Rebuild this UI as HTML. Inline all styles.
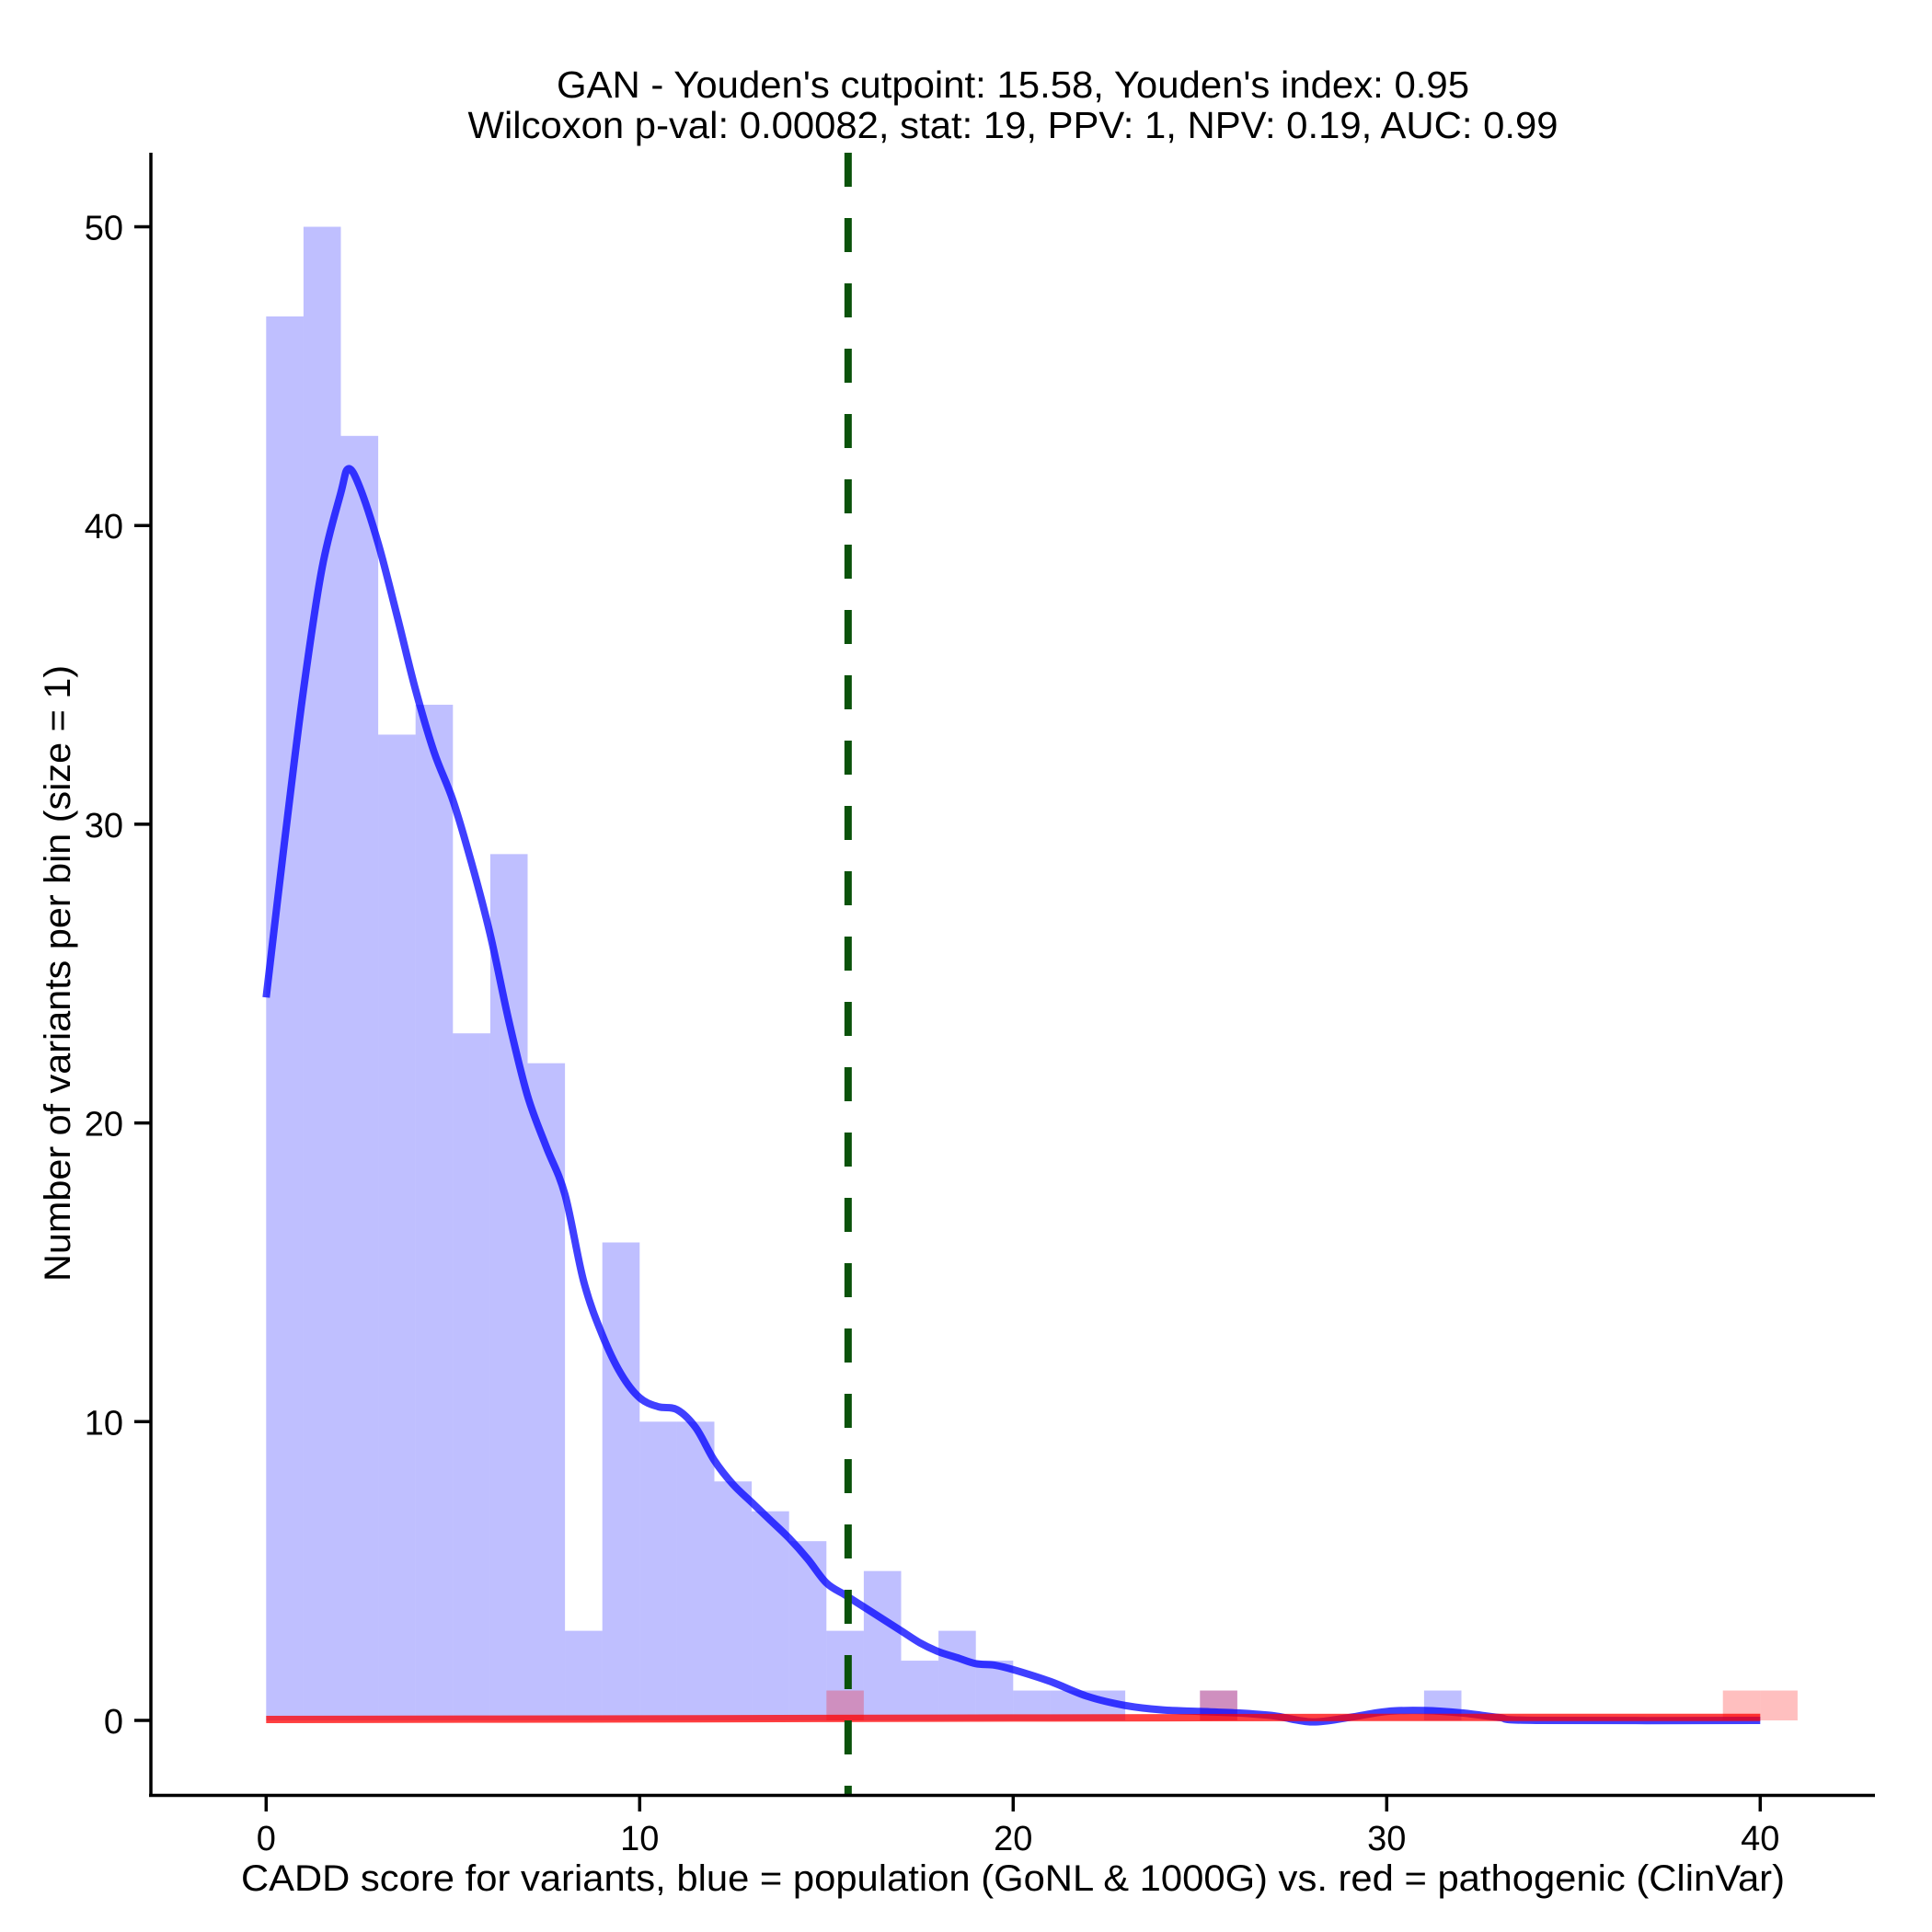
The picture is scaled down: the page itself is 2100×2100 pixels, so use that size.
<!DOCTYPE html>
<html><head><meta charset="utf-8"><style>
html,body{margin:0;padding:0;background:#fff;}
svg{display:block;font-family:"Liberation Sans",Arial,sans-serif;}
</style></head><body>
<svg id="chart" width="2100" height="2100" viewBox="0 0 2100 2100" xmlns="http://www.w3.org/2000/svg">
<text x="1101" y="106" font-size="41" text-anchor="middle" textLength="992" lengthAdjust="spacingAndGlyphs">GAN - Youden's cutpoint: 15.58, Youden's index: 0.95</text>
<text x="1101" y="150" font-size="41" text-anchor="middle" textLength="1185" lengthAdjust="spacingAndGlyphs">Wilcoxon p-val: 0.00082, stat: 19, PPV: 1, NPV: 0.19, AUC: 0.99</text>
<g id="bars"></g>
<g id="curves"></g>
<g id="axes"></g>
<text x="1101" y="2055" font-size="40" text-anchor="middle" textLength="1678" lengthAdjust="spacingAndGlyphs">CADD score for variants, blue = population (GoNL &amp; 1000G) vs. red = pathogenic (ClinVar)</text>
<text transform="translate(76,1058) rotate(-90)" font-size="40" text-anchor="middle" textLength="670" lengthAdjust="spacingAndGlyphs">Number of variants per bin (size = 1)</text>
</svg>
<script>
const blueCounts = [47,50,43,33,34,23,29,22,3,16,10,10,8,7,6,3,5,2,3,2,1,1,1,0,0,1,0,0,0,0,0,1,0,0,0,0,0,0,0,0,0];
const redCounts = [0,0,0,0,0,0,0,0,0,0,0,0,0,0,0,1,0,0,0,0,0,0,0,0,0,1,0,0,0,0,0,0,0,0,0,0,0,0,0,1,1];
const blueDensX = [0,0.5,1,1.5,2,2.2,2.5,3,3.5,4,4.5,5,5.5,6,6.5,7,7.5,8,8.5,9,9.5,10,10.5,11,11.5,12,12.5,13,13.5,14,14.5,15,15.5,16,16.5,17,17.5,18,18.5,19,19.5,20,21,22,23,24,25,26,27,28,29,30,31,32,33,34,40];
const blueDensY = [24.2,29.5,34.5,38.6,41.1,41.9,41.3,39.4,37,34.5,32.4,30.8,28.7,26.3,23.4,20.9,19.2,17.6,14.7,12.9,11.6,10.8,10.5,10.4,9.8,8.7,7.9,7.3,6.7,6.1,5.4,4.6,4.2,3.8,3.4,3.0,2.6,2.3,2.1,1.9,1.85,1.7,1.3,0.8,0.5,0.35,0.3,0.25,0.15,-0.05,0.1,0.3,0.33,0.25,0.1,0,0];
const redDensX = [0,10,20,30,40];
const redDensY = [0.03,0.05,0.08,0.1,0.1];
const xTicks = [0,10,20,30,40];
const yTicks = [0,10,20,30,40,50];
const cutpoint = 15.58;

const NS='http://www.w3.org/2000/svg';
function sx(v){return 289.3 + v*40.6;}
function sy(v){return 1870 - v*32.47;}
function mk(tag,attrs,parent){const e=document.createElementNS(NS,tag);for(const k in attrs)e.setAttribute(k,attrs[k]);parent.appendChild(e);return e;}
const bars=document.getElementById('bars'),curves=document.getElementById('curves'),axes=document.getElementById('axes');

blueCounts.forEach((c,i)=>{ if(!c) return;
  const r=mk('rect',{x:sx(i),y:sy(c),width:sx(i+1)-sx(i),height:sy(0)-sy(c),fill:'#0000ff','fill-opacity':0.25},bars);
  
  
});
redCounts.forEach((c,i)=>{ if(!c) return;
  const r=mk('rect',{x:sx(i),y:sy(c),width:sx(i+1)-sx(i),height:sy(0)-sy(c),fill:'#ff0000','fill-opacity':0.25},bars);
  
  
});
function path(xs,ys){
  const p=xs.map((x,i)=>[sx(x),sy(ys[i])]);
  let d='M'+p[0][0].toFixed(1)+','+p[0][1].toFixed(1);
  for(let i=0;i<p.length-1;i++){
    const p0=p[Math.max(0,i-1)],p1=p[i],p2=p[i+1],p3=p[Math.min(p.length-1,i+2)];
    const c1=[p1[0]+(p2[0]-p0[0])/6,p1[1]+(p2[1]-p0[1])/6];
    const c2=[p2[0]-(p3[0]-p1[0])/6,p2[1]-(p3[1]-p1[1])/6];
    d+=' C'+c1[0].toFixed(1)+','+c1[1].toFixed(1)+' '+c2[0].toFixed(1)+','+c2[1].toFixed(1)+' '+p2[0].toFixed(1)+','+p2[1].toFixed(1);
  }
  return d;
}
const bl=mk('path',{d:path(blueDensX,blueDensY),fill:'none',stroke:'#0000ff','stroke-opacity':0.75,'stroke-width':8,'stroke-linejoin':'round'},curves);


const rl=mk('path',{d:path(redDensX,redDensY),fill:'none',stroke:'#ff0000','stroke-opacity':0.75,'stroke-width':8},curves);


const cl=mk('line',{x1:sx(cutpoint),x2:sx(cutpoint),y1:166,y2:1951,stroke:'#0a520a','stroke-width':8,'stroke-dasharray':'37 34'},curves);



const ya=mk('line',{x1:164,x2:164,y1:166,y2:1953,stroke:'#000','stroke-width':3.5},axes);


const xa=mk('line',{x1:162,x2:2038,y1:1951.5,y2:1951.5,stroke:'#000','stroke-width':3.5},axes);


xTicks.forEach(t=>{
  const l=mk('line',{x1:sx(t),x2:sx(t),y1:1951,y2:1969,stroke:'#000','stroke-width':3.5},axes);
  
  
  const tx=mk('text',{x:sx(t),y:2011,'font-size':38,'text-anchor':'middle'},axes);
  tx.textContent=t;
  
  
});
yTicks.forEach(t=>{
  const l=mk('line',{x1:146,x2:164,y1:sy(t),y2:sy(t),stroke:'#000','stroke-width':3.5},axes);
  
  
  const tx=mk('text',{x:134,y:sy(t)+14,'font-size':38,'text-anchor':'end'},axes);
  tx.textContent=t;
  
  
});
</script>
</body></html>
